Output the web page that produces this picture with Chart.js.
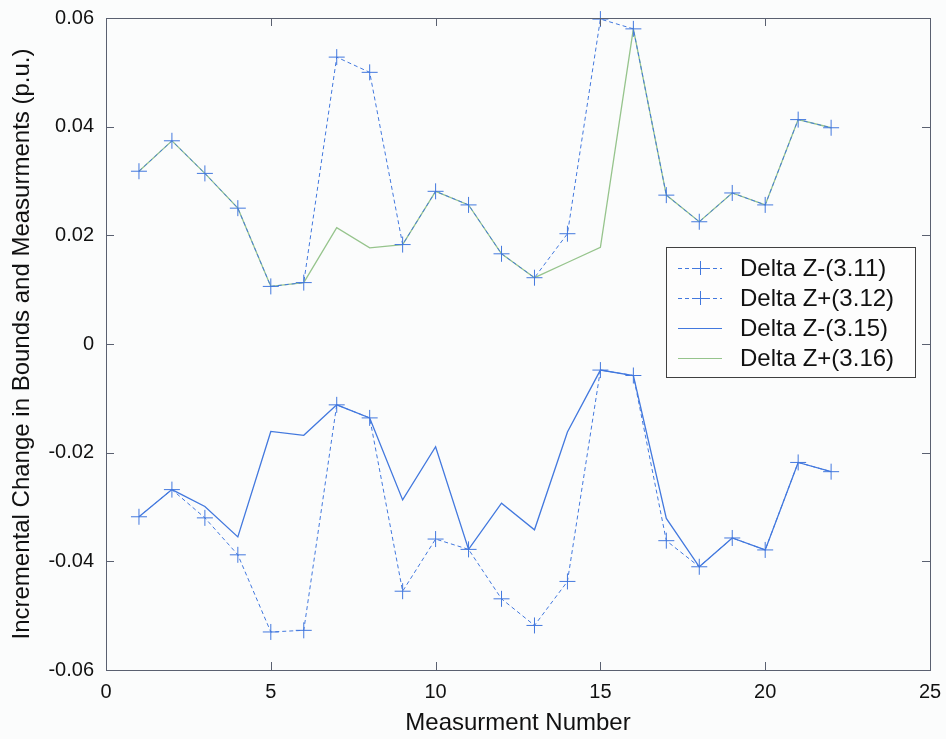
<!DOCTYPE html>
<html>
<head>
<meta charset="utf-8">
<script src="https://cdn.jsdelivr.net/npm/chart.js@4.4.1/dist/chart.umd.min.js"></script>
<style>
  html, body { margin: 0; padding: 0; background: #fbfcfc; }
  #wrap { width: 946px; height: 739px; position: relative; }
</style>
</head>
<body>
<div id="wrap"><canvas id="myChart" width="946" height="739"></canvas></div>
<script>
const measurements = [1, 2, 3, 4, 5, 6, 7, 8, 9, 10, 11, 12, 13, 14, 15, 16, 17, 18, 19, 20, 21, 22];

// lower bounds
const dzMinus311 = [-0.0318, -0.0268, -0.0320, -0.0388, -0.0530, -0.0527, -0.0112, -0.0136, -0.0455, -0.0359, -0.0378,
    -0.0469, -0.0518, -0.0437, -0.0048, -0.0058, -0.0362, -0.0410, -0.0357, -0.0379, -0.0218, -0.0235];
const dzMinus315 = [-0.0318, -0.0268, -0.0299, -0.0355, -0.0161, -0.0168, -0.0112, -0.0136, -0.0287, -0.0189, -0.0378,
    -0.0293, -0.0342, -0.0162, -0.0048, -0.0058, -0.0321, -0.0410, -0.0357, -0.0379, -0.0218, -0.0235];

// upper bounds
const dzPlus312 = [0.0318, 0.0374, 0.0314, 0.0250, 0.0106, 0.0113, 0.0528, 0.0500, 0.0183, 0.0281, 0.0256,
    0.0166, 0.0122, 0.0203, 0.0598, 0.0580, 0.0274, 0.0225, 0.0278, 0.0256, 0.0413, 0.0398];
const dzPlus316 = [0.0318, 0.0374, 0.0314, 0.0250, 0.0106, 0.0113, 0.0214, 0.0177, 0.0183, 0.0281, 0.0256,
    0.0166, 0.0122, 0.0150, 0.0178, 0.0580, 0.0274, 0.0225, 0.0278, 0.0256, 0.0413, 0.0398];

const xTicks = [0, 5, 10, 15, 20, 25];
const yTicks = [-0.06, -0.04, -0.02, 0, 0.02, 0.04, 0.06];

const BLUE = 'rgb(66, 120, 222)';
const GREEN = 'rgb(150, 196, 140)';
const FONT = '"Liberation Sans", Arial, sans-serif';

function toPoints(values) {
    return measurements.map((m, i) => ({ x: m, y: values[i] }));
}

// frame, inward ticks on all four sides, and the legend box
const framePlugin = {
    id: 'frame',
    afterDraw(chart) {
        const c = chart.ctx;
        const a = chart.chartArea;
        const xs = chart.scales.x;
        const ys = chart.scales.y;
        c.save();
        c.strokeStyle = '#5a6070';
        c.lineWidth = 1;
        c.strokeRect(a.left + 0.5, a.top + 0.5, a.right - a.left, a.bottom - a.top);
        c.beginPath();
        xTicks.forEach(v => {
            const px = Math.round(xs.getPixelForValue(v)) + 0.5;
            c.moveTo(px, a.bottom); c.lineTo(px, a.bottom - 8);
            c.moveTo(px, a.top); c.lineTo(px, a.top + 8);
        });
        yTicks.forEach(v => {
            const py = Math.round(ys.getPixelForValue(v)) + 0.5;
            c.moveTo(a.left, py); c.lineTo(a.left + 8, py);
            c.moveTo(a.right, py); c.lineTo(a.right - 8, py);
        });
        c.stroke();

        // legend
        const lx = 666, ly = 247, lw = 249, lh = 130;
        c.fillStyle = '#fdfdfd';
        c.fillRect(lx, ly, lw, lh);
        c.strokeStyle = '#404040';
        c.strokeRect(lx + 0.5, ly + 0.5, lw, lh);
        chart.data.datasets.forEach((ds, k) => {
            const y = ly + 21 + k * 30;
            c.strokeStyle = ds.borderColor;
            c.lineWidth = 1;
            c.setLineDash(ds.borderDash || []);
            c.beginPath();
            c.moveTo(678, y + 0.5); c.lineTo(722, y + 0.5);
            c.stroke();
            c.setLineDash([]);
            if (ds.pointRadius > 0) {
                c.beginPath();
                c.moveTo(700.5, y - 7); c.lineTo(700.5, y + 7);
                c.moveTo(693, y + 0.5); c.lineTo(708, y + 0.5);
                c.stroke();
            }
            c.fillStyle = '#111';
            c.font = '24px ' + FONT;
            c.textBaseline = 'middle';
            c.textAlign = 'left';
            c.fillText(ds.label, 740, y + 1);
        });
        c.restore();
    }
};

const ctx = document.getElementById('myChart').getContext('2d');
const myChart = new Chart(ctx, {
    type: 'line',
    data: {
        datasets: [{
            label: 'Delta Z-(3.11)',
            data: toPoints(dzMinus311),
            borderColor: BLUE,
            borderWidth: 1,
            borderDash: [4, 3],
            pointStyle: 'cross',
            pointRadius: 8,
            pointBorderColor: BLUE,
            pointBorderWidth: 1
        }, {
            label: 'Delta Z+(3.12)',
            data: toPoints(dzPlus312),
            borderColor: BLUE,
            borderWidth: 1,
            borderDash: [4, 3],
            pointStyle: 'cross',
            pointRadius: 8,
            pointBorderColor: BLUE,
            pointBorderWidth: 1
        }, {
            label: 'Delta Z-(3.15)',
            data: toPoints(dzMinus315),
            borderColor: BLUE,
            borderWidth: 1.3,
            pointRadius: 0
        }, {
            label: 'Delta Z+(3.16)',
            data: toPoints(dzPlus316),
            borderColor: GREEN,
            borderWidth: 1.3,
            pointRadius: 0
        }]
    },
    options: {
        responsive: false,
        animation: false,
        clip: false,
        layout: { padding: { top: 18, right: 16, left: 0, bottom: 0 } },
        plugins: {
            legend: { display: false },
            tooltip: { enabled: false }
        },
        scales: {
            x: {
                type: 'linear',
                min: 0,
                max: 25,
                grid: { display: false, drawTicks: false },
                border: { display: false },
                afterBuildTicks: s => { s.ticks = xTicks.map(v => ({ value: v })); },
                afterFit: s => { s.height = 69; s.paddingLeft = 0; s.paddingRight = 0; },
                ticks: {
                    padding: 10,
                    color: '#111',
                    font: { family: FONT, size: 20 },
                    callback: v => String(v)
                },
                title: {
                    display: true,
                    text: 'Measurment Number',
                    color: '#111',
                    font: { family: FONT, size: 24 },
                    padding: { top: 0, bottom: 1 }
                }
            },
            y: {
                min: -0.06,
                max: 0.06,
                grid: { display: false, drawTicks: false },
                border: { display: false },
                afterBuildTicks: s => { s.ticks = yTicks.map(v => ({ value: v })); },
                afterFit: s => { s.width = 106; s.paddingTop = 0; s.paddingBottom = 0; },
                ticks: {
                    padding: 12,
                    color: '#111',
                    font: { family: FONT, size: 20 },
                    callback: v => Math.abs(v) < 1e-9 ? '0' : v.toFixed(2)
                },
                title: {
                    display: true,
                    text: 'Incremental Change in Bounds and Measurments (p.u.)',
                    color: '#111',
                    font: { family: FONT, size: 24 },
                    padding: { top: 8, bottom: 4 }
                }
            }
        }
    },
    plugins: [framePlugin]
});
</script>
</body>
</html>
